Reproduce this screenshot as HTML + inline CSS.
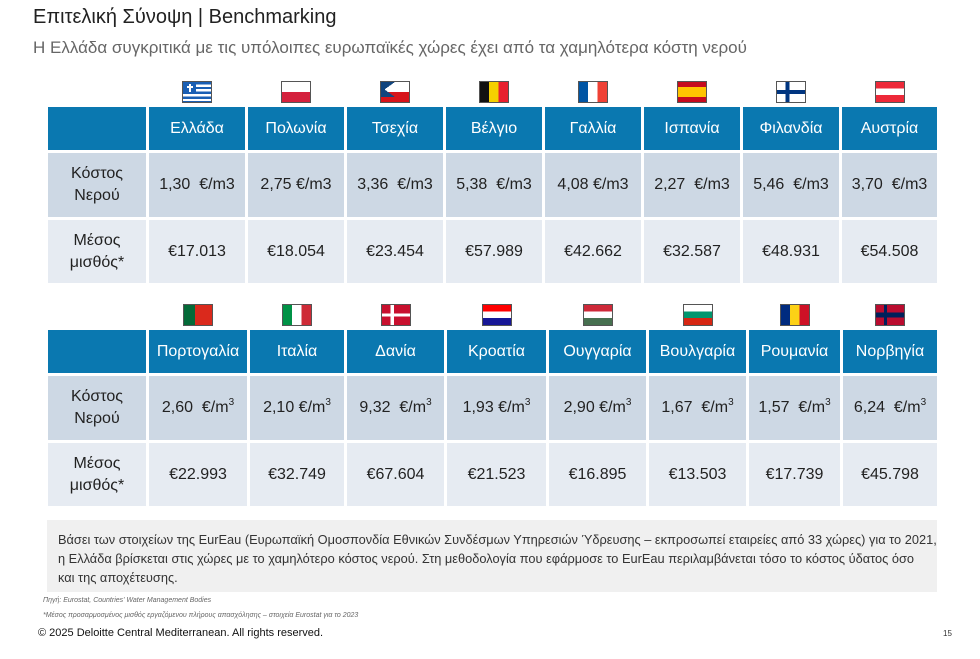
<!DOCTYPE html>
<html><head><meta charset="utf-8"><style>
*{margin:0;padding:0;box-sizing:border-box}
body{width:980px;height:659px;background:#fff;font-family:"Liberation Sans","DejaVu Sans",sans-serif;position:relative;overflow:hidden;color:#222}
.abs{position:absolute}
.c{position:absolute;display:flex;align-items:center;justify-content:center;text-align:center;font-size:16px;line-height:22px}
.h{background:#0a78b0;color:#fff}
.r1{background:#cdd8e4;color:#222}
.r2{background:#e6ebf2;color:#222}
.flag{position:absolute;width:30px;height:22px;border:1px solid #555}
sup{font-size:10px;vertical-align:7px;line-height:0}
</style></head><body>
<div class="abs" style="left:33px;top:6px;font-size:20px;color:#222">Επιτελική Σύνοψη | Benchmarking</div>
<div class="abs" style="left:33px;top:38px;font-size:17px;color:#666">Η Ελλάδα συγκριτικά με τις υπόλοιπες ευρωπαϊκές χώρες έχει από τα χαμηλότερα κόστη νερού</div>
<div id="t"></div>
<div class="abs" style="left:47px;top:520px;width:890px;height:72px;background:#f0f0f0;padding:10px 0 0 11px;font-size:12.8px;line-height:19px;color:#333">Βάσει των στοιχείων της EurEau (Ευρωπαϊκή Ομοσπονδία Εθνικών Συνδέσμων Υπηρεσιών Ύδρευσης – εκπροσωπεί εταιρείες από 33 χώρες) για το 2021,<br>η Ελλάδα βρίσκεται στις χώρες με το χαμηλότερο κόστος νερού. Στη μεθοδολογία που εφάρμοσε το EurEau περιλαμβάνεται τόσο το κόστος ύδατος όσο<br>και της αποχέτευσης.</div>
<div class="abs" style="left:43px;top:597px;font-size:7px;font-style:italic;color:#666">Πηγή: Eurostat, Countries' Water Management Bodies</div>
<div class="abs" style="left:43px;top:612px;font-size:7px;font-style:italic;color:#666">*Μέσος προσαρμοσμένος μισθός εργαζόμενου πλήρους απασχόλησης – στοιχεία Eurostat για το 2023</div>
<div class="abs" style="left:38px;top:627px;font-size:11px;color:#111">© 2025 Deloitte Central Mediterranean. All rights reserved.</div>
<div class="abs" style="left:943px;top:629px;font-size:8px;color:#333">15</div>
<script>
function tbl(top,xs,names,r1,r2,flags,lab1){
 let h='';const hs=[43,64,63],ys=[top,top+46,top+113];
 for(let i=0;i<xs.length-1;i++){
  const x=xs[i],w=xs[i+1]-xs[i]-3;
  h+=`<div class="c h" style="left:${x}px;top:${ys[0]}px;width:${w}px;height:${hs[0]}px"><span>${i?names[i-1]:''}</span></div>`;
  h+=`<div class="c r1" style="left:${x}px;top:${ys[1]}px;width:${w}px;height:${hs[1]}px"><span>${i?r1[i-1]:'Κόστος<br>Νερού'}</span></div>`;
  h+=`<div class="c r2" style="left:${x}px;top:${ys[2]}px;width:${w}px;height:${hs[2]}px"><span>${i?r2[i-1]:'Μέσος<br>μισθός*'}</span></div>`;
  if(i) h+=`<div class="flag" style="left:${x+w/2-15}px;top:${top-26}px;background:${flags[i-1]}"></div>`;
 }
 document.getElementById('t').insertAdjacentHTML('beforeend',h);
}
const H=(a,b,c)=>`linear-gradient(${a} 0 33%,${b} 33% 66%,${c} 66%)`;
const V=(a,b,c)=>`linear-gradient(90deg,${a} 0 33%,${b} 33% 66%,${c} 66%)`;
tbl(107,[48,149,248,347,446,545,644,743,842,940],
['Ελλάδα','Πολωνία','Τσεχία','Βέλγιο','Γαλλία','Ισπανία','Φιλανδία','Αυστρία'],
['1,30&nbsp; €/m3','2,75 €/m3','3,36&nbsp; €/m3','5,38&nbsp; €/m3','4,08 €/m3','2,27&nbsp; €/m3','5,46&nbsp; €/m3','3,70&nbsp; €/m3'],
['€17.013','€18.054','€23.454','€57.989','€42.662','€32.587','€48.931','€54.508'],
['linear-gradient(90deg,#fff 0 6px,transparent 6px) 4px 4px/6px 2px no-repeat,linear-gradient(#fff,#fff) 6px 2px/2px 8px no-repeat,linear-gradient(#1a5fb4,#1a5fb4) 0 0/13px 11px no-repeat,repeating-linear-gradient(#1a5fb4 0 2.4px,#fff 2.4px 4.8px)','linear-gradient(#fff 50%,#d4213d 50%)','linear-gradient(to top right,#11457e 50%,transparent 50%) 0 50%/14px 50% no-repeat,linear-gradient(to bottom right,#11457e 50%,transparent 50%) 0 0/14px 50% no-repeat,linear-gradient(#fff 50%,#d7141a 50%)',V('#111','#f5d000','#e8202e'),V('#0055a4','#fff','#ef4135'),'linear-gradient(#c60b1e 25%,#ffc400 25% 75%,#c60b1e 75%)','linear-gradient(90deg,transparent 30%,#003580 30% 45%,transparent 45%),linear-gradient(#fff 40%,#003580 40% 60%,#fff 60%)',H('#ed2939','#fff','#ed2939')]);
tbl(330,[48,149,250,347,447,549,649,749,843,940],
['Πορτογαλία','Ιταλία','Δανία','Κροατία','Ουγγαρία','Βουλγαρία','Ρουμανία','Νορβηγία'],
['2,60&nbsp; €/m<sup>3</sup>','2,10 €/m<sup>3</sup>','9,32&nbsp; €/m<sup>3</sup>','1,93 €/m<sup>3</sup>','2,90 €/m<sup>3</sup>','1,67&nbsp; €/m<sup>3</sup>','1,57&nbsp; €/m<sup>3</sup>','6,24&nbsp; €/m<sup>3</sup>'],
['€22.993','€32.749','€67.604','€21.523','€16.895','€13.503','€17.739','€45.798'],
['linear-gradient(90deg,#046a38 40%,#da291c 40%)',V('#009246','#fff','#ce2b37'),'linear-gradient(90deg,transparent 30%,#fff 30% 42%,transparent 42%),linear-gradient(#c8102e 42%,#fff 42% 58%,#c8102e 58%)',H('#ff0000','#fff','#171796'),H('#ce2939','#fff','#477050'),H('#fff','#00966e','#d62612'),V('#002b7f','#fcd116','#ce1126'),'linear-gradient(90deg,transparent 28%,#00205b 28% 40%,transparent 40%),linear-gradient(#ba0c2f 38%,#00205b 38% 62%,#ba0c2f 62%)']);
</script>
</body></html>
